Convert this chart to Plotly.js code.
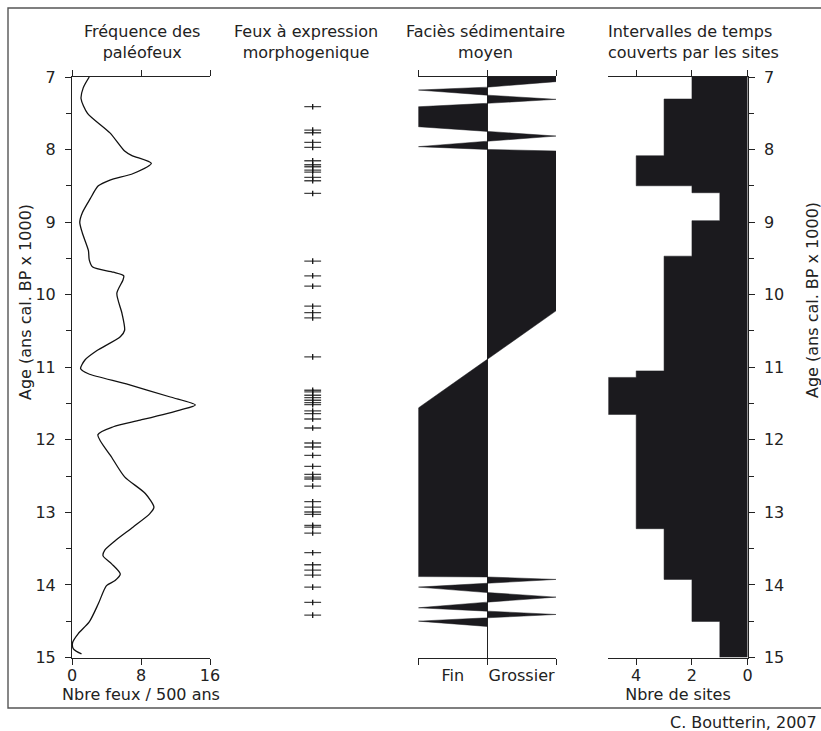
<!DOCTYPE html>
<html>
<head>
<meta charset="utf-8">
<script src="https://cdn.plot.ly/plotly-3.0.1.min.js"></script>
<style>html,body{margin:0;padding:0;background:#fff;}#chart{width:821px;height:731px;}</style>
</head>
<body>
<div id="chart"></div>
<script>
// Panel 1: paleofire frequency (fires / 500 yr) vs age (ka cal BP)
const freqAge = [7.0, 7.15, 7.3, 7.5, 7.77, 8.02, 8.08, 8.19, 8.33, 8.42, 8.5, 8.68, 8.87, 9.0, 9.15, 9.39, 9.52, 9.62, 9.69, 9.74, 9.8, 9.98, 10.26, 10.49, 10.58, 10.77, 10.9, 11.02, 11.09, 11.23, 11.41, 11.52, 11.59, 11.73, 11.82, 11.93, 12.24, 12.51, 12.74, 12.93, 13.02, 13.2, 13.39, 13.52, 13.6, 13.71, 13.85, 13.94, 14.01, 14.26, 14.51, 14.67, 14.79, 14.88, 14.95];
const freqVal = [2.0, 1.3, 1.05, 1.8, 4.4, 6.1, 6.9, 9.2, 7.1, 4.4, 3.05, 2.1, 1.2, 0.9, 1.2, 1.9, 2.0, 2.4, 4.8, 6.0, 5.9, 5.2, 5.8, 6.1, 5.6, 2.9, 1.5, 1.0, 1.9, 6.3, 11.4, 14.3, 12.5, 7.9, 4.8, 3.0, 4.6, 6.1, 8.5, 9.5, 9.0, 7.1, 5.0, 3.8, 3.6, 4.6, 5.6, 5.0, 4.0, 3.05, 2.0, 0.73, 0.08, 0.16, 1.1];

// Panel 2: morphogenic fires (ages)
const fireAges = [7.409, 7.731, 7.768, 7.901, 7.970, 8.154, 8.209, 8.237, 8.283, 8.310, 8.384, 8.430, 8.605, 9.538, 9.740, 9.883, 10.159, 10.246, 10.320, 10.857, 11.317, 11.340, 11.386, 11.418, 11.455, 11.488, 11.515, 11.602, 11.639, 11.713, 11.837, 12.044, 12.099, 12.214, 12.366, 12.476, 12.513, 12.540, 12.637, 12.853, 12.927, 12.995, 13.028, 13.179, 13.202, 13.285, 13.556, 13.722, 13.795, 13.864, 14.030, 14.241, 14.416];

// Panel 3: mean sedimentary facies (-1 = Fin, 1 = Grossier)
const faciesAge = [7.0, 7.064, 7.14, 7.18, 7.25, 7.308, 7.363, 7.41, 7.685, 7.754, 7.814, 7.885, 7.96, 7.998, 8.02, 10.223, 10.89, 11.561, 13.885, 13.89, 13.924, 13.98, 14.03, 14.105, 14.168, 14.237, 14.315, 14.361, 14.407, 14.453, 14.499, 14.572];
const faciesVal = [1, 1, 0, -1, 0, 1, 0, -1, -1, 0, 1, 0, -1, 0, 1, 1, 0, -1, -1, 0, 1, 0, -1, 0, 1, 0, -1, 0, 1, 0, -1, 0];
const faciesTicks = ['Fin', 'Grossier'];

// Panel 4: number of sites covering each time interval
const siteBounds = [7, 7.303, 8.085, 8.499, 8.595, 8.98, 9.469, 11.05, 11.14, 11.65, 13.225, 13.924, 14.503, 15];
const siteCounts = [2, 3, 4, 2, 1, 2, 3, 4, 5, 4, 3, 2, 1];

const ageTicks = [7, 8, 9, 10, 11, 12, 13, 14, 15];

const W = 821, H = 731;
const px = v => v / W;
const py = v => 1 - v / H;
const FONT = 'DejaVu Sans, Verdana, sans-serif';
const INK = '#1b1a1e';
const AX = '#222';
const FS = 16;

const stepX = siteCounts.concat([siteCounts[siteCounts.length - 1]]);

const traces = [
  {x: freqVal, y: freqAge, xaxis: 'x', yaxis: 'y', mode: 'lines',
   line: {color: '#111', width: 1.3, shape: 'spline', smoothing: 0.7}, hoverinfo: 'skip'},
  {x: fireAges.map(() => 0), y: fireAges, xaxis: 'x2', yaxis: 'y2', mode: 'markers',
   marker: {symbol: 'line-ew', size: 12, color: '#444', line: {width: 1.3, color: '#444'}}, hoverinfo: 'skip'},
  {x: fireAges.map(() => 0), y: fireAges, xaxis: 'x2', yaxis: 'y2', mode: 'markers',
   marker: {symbol: 'line-ns', size: 4, color: '#111', line: {width: 1.3, color: '#111'}}, hoverinfo: 'skip'},
  {x: faciesVal, y: faciesAge, xaxis: 'x3', yaxis: 'y3', mode: 'lines', fill: 'tozerox',
   fillcolor: INK, line: {color: INK, width: 0.5}, hoverinfo: 'skip'},
  {x: stepX, y: siteBounds, xaxis: 'x4', yaxis: 'y4', mode: 'lines', fill: 'tozerox',
   fillcolor: INK, line: {color: INK, width: 0.5, shape: 'vh'}, hoverinfo: 'skip'}
];

const yDom = [py(657.5), py(77)];
const baseY = {range: [15, 7], domain: yDom, showgrid: false, zeroline: false, fixedrange: true};
const tickFont = {family: FONT, size: FS, color: AX};

const layout = {
  width: W, height: H,
  margin: {l: 0, r: 0, t: 0, b: 0},
  paper_bgcolor: '#fff', plot_bgcolor: 'rgba(0,0,0,0)',
  showlegend: false,
  font: {family: FONT, size: FS, color: AX},
  xaxis: {domain: [px(72), px(210)], range: [0, 16], tickvals: [0, 8, 16], ticks: 'outside', ticklen: 6,
          tickcolor: AX, showline: true, linecolor: AX, linewidth: 1, mirror: 'ticks', showgrid: false,
          zeroline: false, anchor: 'y', tickfont: tickFont, ticklabelstandoff: -3,
          title: {text: 'Nbre feux / 500 ans', font: tickFont, standoff: 3}},
  yaxis: Object.assign({}, baseY, {anchor: 'x', tickvals: ageTicks, ticks: 'outside', ticklen: 6, tickcolor: AX,
          showline: true, linecolor: AX, linewidth: 1, tickfont: tickFont, ticklabelstandoff: 6,
          minor: {tickmode: 'linear', tick0: 7, dtick: 0.5, ticks: 'outside', ticklen: 5, tickcolor: AX}}),
  xaxis2: {domain: [px(282.7), px(342.7)], range: [-1, 1], visible: false, anchor: 'y2', fixedrange: true},
  yaxis2: Object.assign({}, baseY, {anchor: 'x2', visible: false}),
  xaxis3: {domain: [px(418.3), px(556)], range: [-1, 1], tickvals: [-0.5, 0.5], ticktext: faciesTicks, ticks: '',
           minor: {tickvals: [-1, 0, 1], ticks: 'outside', ticklen: 6, tickcolor: AX},
           showline: true, linecolor: AX, linewidth: 1, mirror: 'ticks', showgrid: false,
           zeroline: true, zerolinecolor: AX, zerolinewidth: 1, anchor: 'y3', tickfont: tickFont,
           ticklabelstandoff: 3},
  yaxis3: Object.assign({}, baseY, {anchor: 'x3', visible: false}),
  xaxis4: {domain: [px(608.3), px(747.7)], range: [5, 0], tickvals: [0, 2, 4], ticks: 'outside', ticklen: 6,
           tickcolor: AX, showline: true, linecolor: AX, linewidth: 1, mirror: 'ticks', showgrid: false,
           zeroline: false, anchor: 'y4', tickfont: tickFont, ticklabelstandoff: -3,
           title: {text: 'Nbre de sites', font: tickFont, standoff: 3}},
  yaxis4: Object.assign({}, baseY, {anchor: 'x4', side: 'right', tickvals: ageTicks, ticks: 'outside', ticklen: 6,
           tickcolor: AX, showline: true, linecolor: AX, linewidth: 1, tickfont: tickFont, ticklabelstandoff: 6,
           minor: {tickmode: 'linear', tick0: 7, dtick: 0.5, ticks: 'outside', ticklen: 5, tickcolor: AX}}),
  shapes: [
    {type: 'rect', xref: 'paper', yref: 'paper', x0: px(8), x1: px(830), y0: py(708), y1: py(8),
     line: {color: '#555', width: 1.4}, fillcolor: 'rgba(0,0,0,0)', layer: 'below'}
  ],
  annotations: [
    {text: 'Fréquence des<br>paléofeux', x: px(142), y: py(42), xref: 'paper', yref: 'paper',
     xanchor: 'center', yanchor: 'middle', showarrow: false, font: tickFont},
    {text: 'Feux à expression<br>morphogenique', x: px(306), y: py(42), xref: 'paper', yref: 'paper',
     xanchor: 'center', yanchor: 'middle', showarrow: false, font: tickFont},
    {text: 'Faciès sédimentaire<br>moyen', x: px(486), y: py(42), xref: 'paper', yref: 'paper',
     xanchor: 'center', yanchor: 'middle', showarrow: false, font: tickFont},
    {text: 'Intervalles de temps<br>couverts par les sites', x: px(606), y: py(42), xref: 'paper', yref: 'paper',
     xanchor: 'left', yanchor: 'middle', align: 'left', showarrow: false, font: tickFont},
    {text: 'Age (ans cal. BP x 1000)', x: px(25), y: py(302), xref: 'paper', yref: 'paper', textangle: -90,
     xanchor: 'center', yanchor: 'middle', showarrow: false, font: tickFont},
    {text: 'Age (ans cal. BP x 1000)', x: px(812), y: py(300), xref: 'paper', yref: 'paper', textangle: -90,
     xanchor: 'center', yanchor: 'middle', showarrow: false, font: tickFont},
    {text: 'C. Boutterin, 2007', x: px(819), y: py(722), xref: 'paper', yref: 'paper',
     xanchor: 'right', yanchor: 'middle', showarrow: false, font: tickFont}
  ]
};

Plotly.newPlot('chart', traces, layout, {staticPlot: true, displayModeBar: false});
</script>
</body>
</html>
